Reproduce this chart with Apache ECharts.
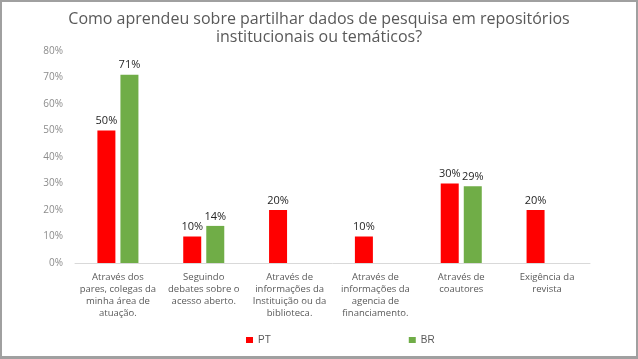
<!DOCTYPE html>
<html><head><meta charset="utf-8">
<script src="https://cdn.jsdelivr.net/npm/echarts@6/dist/echarts.min.js"></script>
<style>html,body{margin:0;padding:0;background:#fff}#w{position:relative;width:638px;height:359px}#c{width:638px;height:359px}#f{position:absolute;left:0;top:0;width:638px;height:359px;box-sizing:border-box;border:2px solid #a0a0a0;border-bottom-width:3px;pointer-events:none}</style>
</head><body><div id="w"><div id="c"></div><div id="f"></div></div>
<script>
const categories = [
  "Através dos\npares, colegas da\nminha área de\natuação.",
  "Seguindo\ndebates sobre o\nacesso aberto.",
  "Através de\ninformações da\nInstituição ou da\nbiblioteca.",
  "Através de\ninformações da\nagencia de\nfinanciamento.",
  "Através de\ncoautores",
  "Exigência da\nrevista"
];
const ptValues = [50, 10, 20, 10, 30, 20];
const brValues = [71, 14, null, null, 29, null];
const yTicks = [0, 10, 20, 30, 40, 50, 60, 70, 80];

const chart = echarts.init(document.getElementById('c'));
const lbl = {show: true, position: 'top', distance: 4, formatter: p => p.value + '%', color: '#262626', fontSize: 11, fontFamily: 'Open Sans'};
chart.setOption({
  animation: false,
  title: {
    text: 'Como aprendeu sobre partilhar dados de pesquisa em repositórios\ninstitucionais ou temáticos?',
    left: 'center', top: 5,
    textStyle: {fontSize: 16, fontWeight: 'normal', color: '#595959', fontFamily: 'Open Sans', lineHeight: 18}
  },
  legend: {
    top: 330, left: 241, itemGap: 138, itemWidth: 7, itemHeight: 6,
    icon: 'rect',
    textStyle: {fontSize: 10, color: '#595959', fontFamily: 'Liberation Sans'},
    data: ['PT', 'BR']
  },
  grid: {left: 75, right: 48, top: 51, bottom: 96},
  xAxis: {
    type: 'category', data: categories,
    axisLine: {lineStyle: {color: '#d9d9d9'}},
    axisTick: {show: false},
    axisLabel: {interval: 0, color: '#595959', fontSize: 9.5, fontFamily: 'Open Sans', lineHeight: 12, margin: 8}
  },
  yAxis: {
    type: 'value', min: 0, max: 80, interval: 10,
    splitLine: {show: false},
    axisLine: {show: false}, axisTick: {show: false},
    axisLabel: {formatter: v => yTicks.includes(v) ? v + '%' : '', color: '#8c8c8c', fontSize: 10, fontFamily: 'Open Sans', margin: 12}
  },
  series: [
    {name: 'PT', type: 'bar', data: ptValues, itemStyle: {color: '#ff0000'}, barWidth: 18, barGap: '28%', label: lbl},
    {name: 'BR', type: 'bar', data: brValues, itemStyle: {color: '#70ad47'}, barWidth: 18, label: lbl}
  ]
});
</script></body></html>
